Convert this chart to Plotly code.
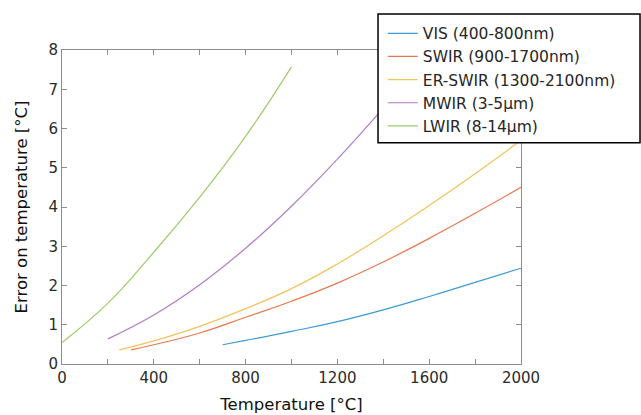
import plotly.graph_objects as go

# Data
vis_x = [700, 800, 1000, 1200, 1400, 1600, 1800, 2000]
vis_y = [0.49, 0.6, 0.83, 1.08, 1.38, 1.72, 2.08, 2.44]

swir_x = [300, 400, 600, 800, 1000, 1200, 1400, 1600, 1800, 2000]
swir_y = [0.36, 0.49, 0.79, 1.19, 1.6, 2.06, 2.6, 3.2, 3.84, 4.5]

erswir_x = [250, 400, 600, 800, 1000, 1200, 1400, 1600, 1800, 2000]
erswir_y = [0.36, 0.59, 0.96, 1.41, 1.92, 2.55, 3.27, 4.04, 4.85, 5.7]

mwir_x = [200, 400, 600, 800, 1000, 1200, 1400, 1600]
mwir_y = [0.64, 1.25, 2.02, 2.95, 4.02, 5.22, 6.52, 7.9]

lwir_x = [0, 200, 400, 600, 800, 1000]
lwir_y = [0.55, 1.55, 2.85, 4.25, 5.8, 7.57]

names = ["VIS (400-800nm)", "SWIR (900-1700nm)", "ER-SWIR (1300-2100nm)",
         "MWIR (3-5\u00b5m)", "LWIR (8-14\u00b5m)"]
colors = ["#3d9ad6", "#e8784f", "#f2c35a", "#b07cc6", "#9ccb6a"]
xs = [vis_x, swir_x, erswir_x, mwir_x, lwir_x]
ys = [vis_y, swir_y, erswir_y, mwir_y, lwir_y]

x_ticks = [0, 400, 800, 1200, 1600, 2000]
y_ticks = [0, 1, 2, 3, 4, 5, 6, 7, 8]

fig = go.Figure()
for n, c, x, y in zip(names, colors, xs, ys):
    fig.add_trace(go.Scatter(x=x, y=y, mode="lines", name=n,
                             line=dict(color=c, width=1.2, shape="spline", smoothing=1.3)))

font = "DejaVu Sans, sans-serif"
axis_common = dict(showline=True, linecolor="#8c8c8c", linewidth=1, mirror="ticks",
                   ticks="inside", ticklen=5, tickcolor="#8c8c8c", showgrid=False,
                   zeroline=False, automargin=False,
                   tickfont=dict(family=font, size=15, color="#2b2b2b"))

fig.update_xaxes(range=[0, 2000], tickvals=list(range(0, 2001, 200)),
                 ticktext=[str(v) if v in x_ticks else "" for v in range(0, 2001, 200)],
                 title=dict(text="Temperature [\u00b0C]", font=dict(family=font, size=16.5, color="#111"),
                            standoff=12),
                 **axis_common)
fig.update_yaxes(range=[0, 8], tickvals=y_ticks,
                 title=dict(text="Error on temperature [\u00b0C]", font=dict(family=font, size=16.5, color="#111"),
                            standoff=16),
                 **axis_common)

# legend frame (white box with black border)
fig.add_shape(type="rect", xref="paper", yref="paper",
              x0=0.6885, x1=1.2593, y0=0.7048, y1=1.1143,
              line=dict(color="#000", width=1.5), fillcolor="white", layer="above")

fig.update_layout(
    width=641, height=415,
    margin=dict(l=62, r=120, t=50, b=51),
    plot_bgcolor="white", paper_bgcolor="white",
    font=dict(family=font),
    legend=dict(x=0.699, y=1.106, xanchor="left", yanchor="top",
                bgcolor="rgba(0,0,0,0)", borderwidth=0,
                font=dict(family=font, size=15.5, color="#262626"),
                tracegroupgap=0, itemwidth=30),
)

fig.write_html("out.html")
